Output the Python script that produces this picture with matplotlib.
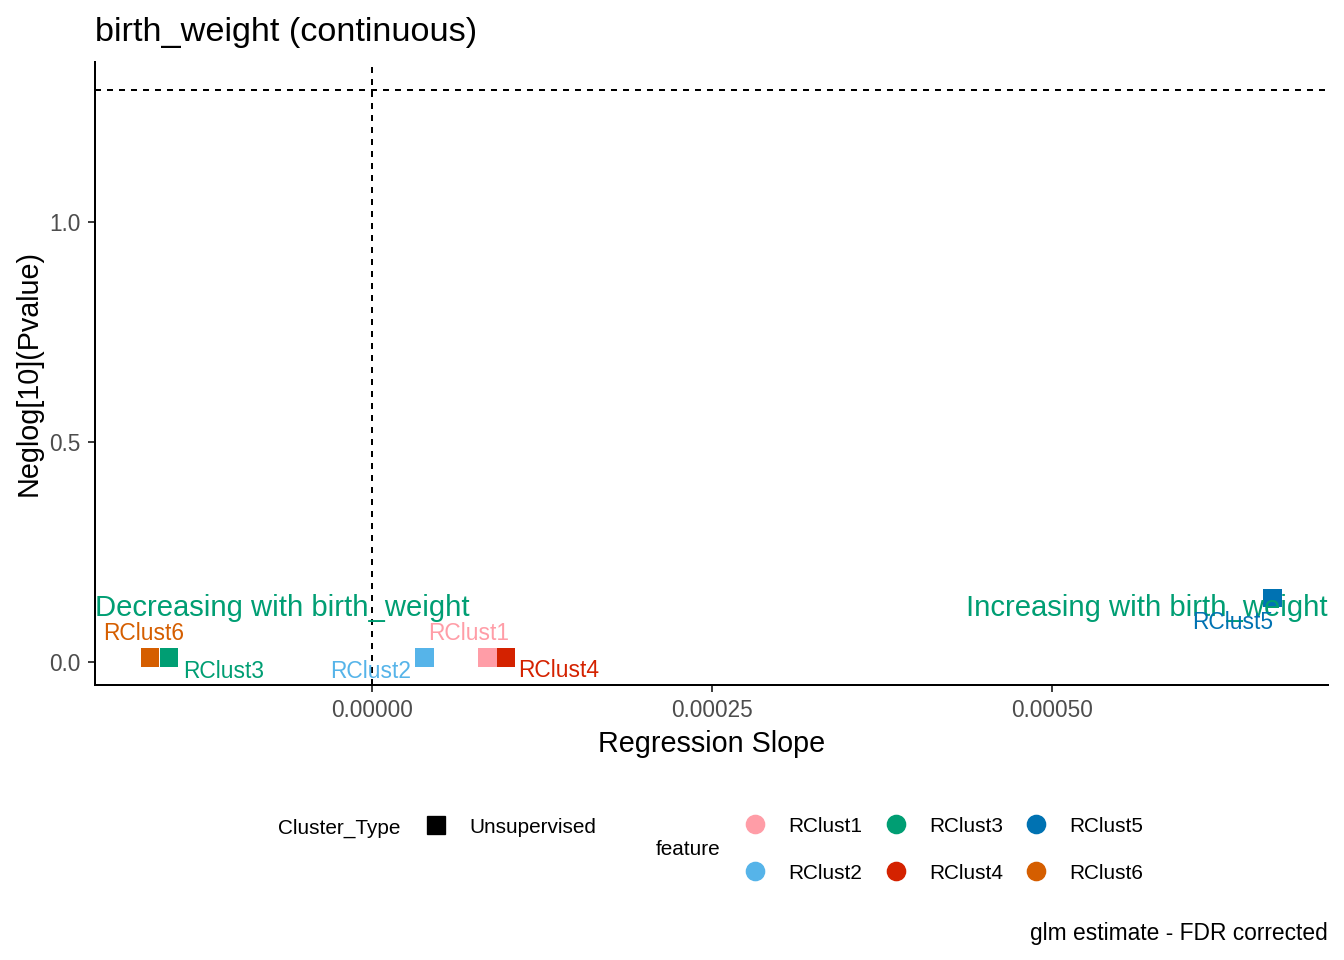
import numpy as np
import matplotlib.pyplot as plt
from matplotlib.lines import Line2D

plt.rcParams['font.family'] = ['Liberation Sans', 'DejaVu Sans']

# data
features = ['RClust1', 'RClust2', 'RClust3', 'RClust4', 'RClust5', 'RClust6']
slope = [0.0000849, 0.0000386, -0.0001493, 0.0000984, 0.000662, -0.0001632]
neglog_p = [0.010, 0.010, 0.010, 0.010, 0.1455, 0.010]
colors = ['#FF9DA7', '#56B4E9', '#009E73', '#D42200', '#0072B2', '#D55E00']
cluster_type = 'Unsupervised'
p_threshold = 0.05

x_ticks = [0.0, 0.00025, 0.0005]
x_ticklabels = ['0.00000', '0.00025', '0.00050']
y_ticks = [0.0, 0.5, 1.0]

# label nudges (pixels) to mimic ggrepel placement
label_offsets = {
    'RClust1': (-19, 18),
    'RClust2': (-54, -20),
    'RClust3': (55, -20),
    'RClust4': (53, -19),
    'RClust5': (-40, -31),
    'RClust6': (-6, 18),
}

W, H = 1344, 960
fig = plt.figure(figsize=(W / 96, H / 96), dpi=96)
ax = fig.add_axes([95 / W, 1 - 685 / H, (1328 - 95) / W, (685 - 62) / H])

ax.axhline(-np.log10(p_threshold), color='black', lw=1.5, ls=(0, (3, 3)), zorder=1)
ax.axvline(0, color='black', lw=1.5, ls=(0, (3, 3)), zorder=1)

ax.scatter(slope, neglog_p, marker='s', s=13.95 ** 2, c=colors, linewidths=0, zorder=3)

for f, x, y, c in zip(features, slope, neglog_p, colors):
    dx, dy = label_offsets[f]
    ax.annotate(f, (x, y), xytext=(dx, dy), textcoords='offset pixels',
                ha='center', va='baseline', color=c, fontsize=17.1, zorder=4)

ax.set_xlim(-0.00020368, 0.00070294)
ax.set_ylim(-0.05227, 1.3636)

ax.text(-0.00020368, 0.1045, 'Decreasing with birth_weight', color='#009E73',
        fontsize=21.9, ha='left', va='baseline')
ax.text(0.00070294, 0.1045, 'Increasing with birth_weight', color='#009E73',
        fontsize=21.9, ha='right', va='baseline')

ax.set_xticks(x_ticks)
ax.set_xticklabels(x_ticklabels)
ax.set_yticks(y_ticks)
ax.set_yticklabels(['0.0', '0.5', '1.0'])
ax.tick_params(axis='both', colors='#333333', labelcolor='#4D4D4D',
               labelsize=16.9, length=5.5, width=1.4)
ax.tick_params(axis='x', pad=5)
ax.tick_params(axis='y', pad=5.5)
for s in ['top', 'right']:
    ax.spines[s].set_visible(False)
for s in ['left', 'bottom']:
    ax.spines[s].set_linewidth(1.5)
    ax.spines[s].set_color('black')

fig.text(95 / W, 1 - 41 / H, 'birth_weight (continuous)', fontsize=25.7,
         ha='left', va='baseline')
fig.text(711.5 / W, 1 - 752 / H, 'Regression Slope', fontsize=21.6,
         ha='center', va='baseline')
fig.text(29 / W, 1 - 373.5 / H, 'Neglog[10](Pvalue)', fontsize=21.6,
         ha='center', va='center', rotation=90)

# legends
fs_leg = 15.6
fig.text(278 / W, 1 - 833.3 / H, 'Cluster_Type', fontsize=fs_leg, ha='left', va='baseline')
sq = [Line2D([], [], marker='s', ls='', ms=13, mfc='black', mec='black')]
fig.legend(sq, [cluster_type], loc='center left',
           bbox_to_anchor=(425.6 / W, 1 - 827 / H), frameon=False, fontsize=fs_leg,
           handlelength=1.0, handleheight=1.0, handletextpad=1.1,
           borderpad=0, borderaxespad=0)

fig.text(655.7 / W, 1 - 855 / H, 'feature', fontsize=fs_leg, ha='left', va='baseline')
dots = [Line2D([], [], marker='o', ls='', ms=13.7, mfc=c, mec=c) for c in colors]
fig.legend(dots, features, ncol=3, loc='center left',
           bbox_to_anchor=(744.6 / W, 1 - 849.5 / H), frameon=False, fontsize=fs_leg,
           handlelength=1.0, handleheight=1.0, handletextpad=1.1,
           columnspacing=1.1, labelspacing=1.25, borderpad=0, borderaxespad=0)

fig.text(1328 / W, 1 - 940 / H, 'glm estimate - FDR corrected', fontsize=17.1,
         ha='right', va='baseline')

fig.savefig('out.png', dpi=96)
